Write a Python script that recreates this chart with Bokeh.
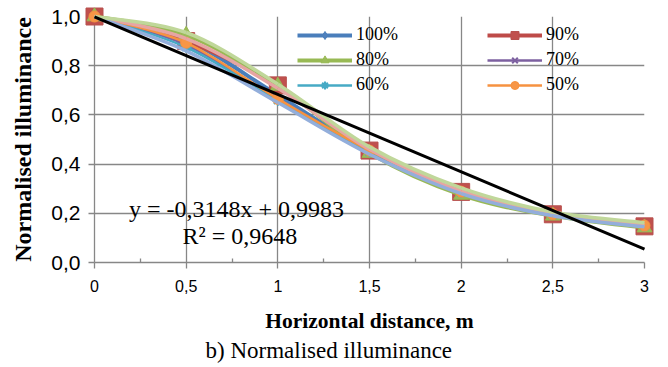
import numpy as np
from bokeh.plotting import figure
from bokeh.models import (Range1d, FixedTicker, Legend, LegendItem, Label, Title)
from bokeh.embed import file_html
from bokeh.resources import INLINE

# ---------------- data ----------------
distance = [0, 0.5, 1, 1.5, 2, 2.5, 3]
s100 = [1.0, 0.905, 0.680, 0.450, 0.285, 0.195, 0.148]
s90 = [1.0, 0.900, 0.720, 0.455, 0.287, 0.196, 0.147]
s80 = [1.0, 0.925, 0.718, 0.445, 0.275, 0.190, 0.142]
s70 = [1.0, 0.885, 0.665, 0.450, 0.285, 0.195, 0.148]
s60 = [1.0, 0.875, 0.660, 0.450, 0.285, 0.195, 0.148]
s50 = [1.0, 0.893, 0.665, 0.455, 0.288, 0.197, 0.150]
# extra (unlabelled) series drawn in light tints
extra_green = [1.0, 0.935, 0.725, 0.470, 0.303, 0.205, 0.162]
extra_pink = [1.0, 0.910, 0.708, 0.460, 0.290, 0.200, 0.152]
extra_blue = [1.0, 0.860, 0.650, 0.440, 0.280, 0.190, 0.145]

series_labels = ["100%", "90%", "80%", "70%", "60%", "50%"]
trend_slope = -0.3148
trend_intercept = 0.9983
equation_text = "y = -0,3148x + 0,9983"
r2_text = "R² = 0,9648"

x_ticks = [0, 0.5, 1, 1.5, 2, 2.5, 3]
x_tick_labels = ["0", "0,5", "1", "1,5", "2", "2,5", "3"]
x_minor_ticks = [0.25, 0.75, 1.25, 1.75, 2.25, 2.75]
y_ticks = [0.0, 0.2, 0.4, 0.6, 0.8, 1.0]
y_tick_labels = ["0,0", "0,2", "0,4", "0,6", "0,8", "1,0"]

x_title = "Horizontal distance, m"
y_title = "Normalised illuminance"
caption = "b) Normalised illuminance"

# ---------------- figure ----------------
GRID = "#878787"
p = figure(width=668, height=367, x_range=Range1d(0, 3), y_range=Range1d(0, 1),
           output_backend="svg", toolbar_location=None,
           min_border_left=94, min_border_right=24, min_border_top=16,
           min_border_bottom=105)
p.outline_line_color = None
p.background_fill_color = "white"

# axes
p.xaxis.ticker = FixedTicker(ticks=x_ticks, minor_ticks=x_minor_ticks)
p.yaxis.ticker = FixedTicker(ticks=y_ticks)
p.xaxis.major_label_overrides = dict(zip(x_ticks, x_tick_labels))
p.yaxis.major_label_overrides = dict(zip(y_ticks, y_tick_labels))
for ax in (p.xaxis, p.yaxis):
    ax.axis_line_color = GRID
    ax.axis_line_width = 1.3
    ax.major_tick_line_color = GRID
    ax.major_tick_line_width = 1.3
    ax.major_tick_in = 0
    ax.major_tick_out = 6
    ax.major_label_text_font = "Liberation Sans"
    ax.major_label_text_color = "black"
    ax.axis_label_text_font = "Liberation Serif"
    ax.axis_label_text_font_style = "bold"
    ax.axis_label_text_color = "black"
p.xaxis.minor_tick_line_color = GRID
p.xaxis.minor_tick_line_width = 1.3
p.xaxis.minor_tick_in = 4
p.xaxis.minor_tick_out = 0
p.yaxis.minor_tick_line_color = None
p.xaxis.major_label_text_font_size = "16px"
p.yaxis.major_label_text_font_size = "21px"
p.xaxis.major_label_standoff = 11
p.yaxis.major_label_standoff = 8
p.xaxis.axis_label = x_title
p.yaxis.axis_label = y_title
p.xaxis.axis_label_text_font_size = "21.5px"
p.yaxis.axis_label_text_font_size = "24px"
p.xaxis.axis_label_standoff = 14
p.yaxis.axis_label_standoff = 12

p.xgrid.ticker = FixedTicker(ticks=x_ticks)
p.ygrid.ticker = FixedTicker(ticks=y_ticks)
for g in (p.xgrid, p.ygrid):
    g.grid_line_color = GRID
    g.grid_line_width = 1.3


def smooth(xs, ys):
    """Bezier control points (Catmull-Rom style) for a smoothed line through the points."""
    P = np.column_stack([xs, ys]).astype(float)
    prev = np.vstack([P[:1], P[:-1]])
    nxt = np.vstack([P[1:], P[-1:]])
    tang = (nxt - prev) / 6.0
    p0 = P[:-1]
    p1 = P[1:]
    c0 = p0 + tang[:-1]
    c1 = p1 - tang[1:]
    return dict(x0=p0[:, 0], y0=p0[:, 1], x1=p1[:, 0], y1=p1[:, 1],
                cx0=c0[:, 0], cy0=c0[:, 1], cx1=c1[:, 0], cy1=c1[:, 1])


main = [
    (s100, "#4A7EBB", 4.0, "diamond", 11, "#4F81BD", "#4A7EBB"),
    (s90, "#BE4B48", 4.0, "square", 17, "#C0504D", "#B7514E"),
    (s80, "#98B954", 4.0, "triangle", 15, "#9BBB59", "#98B954"),
    (s70, "#7D60A0", 2.5, "x", 10, None, "#7D60A0"),
    (s60, "#46AAC5", 2.5, "asterisk", 11, None, "#46AAC5"),
    (s50, "#F69240", 2.5, "circle", 11, "#F79646", "#F69240"),
]

items = []
for (ys, lc, lw, mk, ms, fc, mc), lab in zip(main, series_labels):
    b = p.bezier(line_color=lc, line_width=lw, level="overlay", **smooth(distance, ys))
    s = p.scatter(distance, ys, marker=mk, size=ms, fill_color=fc, line_color=mc,
                  line_width=2 if fc is None else 1, level="overlay")
    items.append(LegendItem(label=lab, renderers=[b, s]))

for ys, lc in ((extra_pink, "#E6A5A3"), (extra_blue, "#93AEDB"), (extra_green, "#C0D79A")):
    p.bezier(line_color=lc, line_width=3.5, level="overlay", **smooth(distance, ys))

trend_x = np.array([distance[0], distance[-1]], dtype=float)
trend_y = trend_slope * trend_x + trend_intercept
p.line(trend_x, trend_y, line_color="black", line_width=3, level="overlay")

legend = Legend(items=items, location=(203, 167), orientation="horizontal", ncols=2,
                glyph_width=55, glyph_height=20, label_height=20, label_width=127,
                label_standoff=4, spacing=4, padding=0, margin=0,
                background_fill_alpha=0, border_line_color=None,
                label_text_font="Liberation Serif", label_text_font_size="18px",
                label_text_color="black")
p.add_layout(legend)

p.add_layout(Label(x=0.775, y=0.2175, text=equation_text, text_align="center",
                   text_baseline="alphabetic", text_font="Liberation Serif",
                   text_font_size="24px", text_color="black"))
p.add_layout(Label(x=0.7935, y=0.1057, text=r2_text, text_align="center",
                   text_baseline="alphabetic", text_font="Liberation Serif",
                   text_font_size="24px", text_color="black"))

cap = Title(text=caption, align="left", text_font="Liberation Serif",
            text_font_size="23px", text_font_style="normal", text_color="black",
            standoff=1, offset=111)
p.add_layout(cap, "below")

open("out.html", "w").write(file_html(p, INLINE))
